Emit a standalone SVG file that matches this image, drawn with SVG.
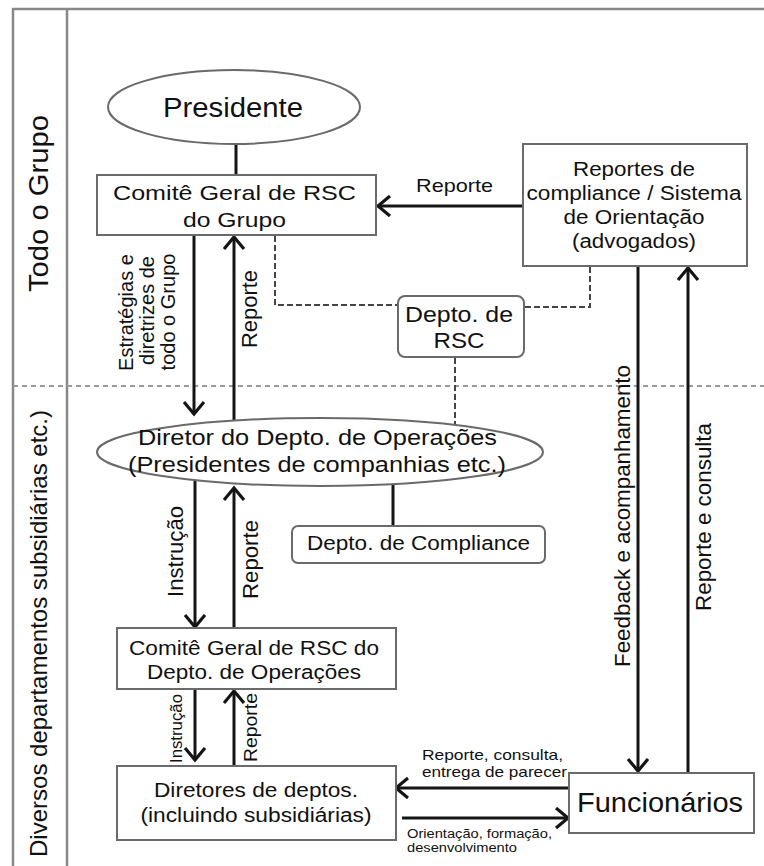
<svg xmlns="http://www.w3.org/2000/svg" width="764" height="866" viewBox="0 0 764 866">
<style>
text{font-family:"Liberation Sans",Arial,sans-serif;fill:#111;}
.c{text-anchor:middle;}
.box{fill:#fff;stroke:#6a6a6a;stroke-width:2;}
.ln{fill:none;stroke:#151515;stroke-width:3;}
.arr{fill:none;stroke:#151515;stroke-width:3;marker-end:url(#ah);}
.dash{fill:none;stroke:#444;stroke-width:2;stroke-dasharray:6,3;}
.frame{fill:none;stroke:#888;stroke-width:2.5;}
</style>
<defs>
<marker id="ah" markerUnits="userSpaceOnUse" markerWidth="18" markerHeight="26" refX="14" refY="11" orient="auto">
<path d="M2,1 L14,11 L2,21" fill="none" stroke="#151515" stroke-width="3.2"/>
</marker>
</defs>

<g id="frame">
<path class="frame" d="M13,866 V9 H764"/>
<line x1="67" y1="9" x2="67" y2="866" stroke="#888" stroke-width="2.5"/>
<line x1="13" y1="386" x2="764" y2="386" stroke="#9a9a9a" stroke-width="2" stroke-dasharray="5,4"/>
<text class="c" x="48" y="203.5" font-size="28" textLength="177" lengthAdjust="spacingAndGlyphs" transform="rotate(-90 48 203.5)">Todo o Grupo</text>
<text class="c" x="47" y="633.5" font-size="24" textLength="447" lengthAdjust="spacingAndGlyphs" transform="rotate(-90 47 633.5)">Diversos departamentos subsidiárias etc.)</text>
</g>

<g id="connectors">
<line class="ln" x1="236" y1="144" x2="236" y2="175"/>
<line class="arr" x1="523" y1="206" x2="378" y2="206"/>
<polyline class="dash" points="275,236 275,305 398,305"/>
<polyline class="dash" points="590,267 590,307 524,307"/>
<line class="dash" x1="455" y1="358" x2="455" y2="424"/>
<line class="arr" x1="194" y1="236" x2="194" y2="414"/>
<line class="arr" x1="234" y1="421" x2="234" y2="237"/>
<line class="ln" x1="393" y1="484" x2="393" y2="526"/>
<line class="arr" x1="195" y1="481" x2="195" y2="627"/>
<line class="arr" x1="234" y1="628" x2="234" y2="488"/>
<line class="arr" x1="195" y1="690" x2="195" y2="760"/>
<line class="arr" x1="234" y1="766" x2="234" y2="691"/>
<line class="arr" x1="569" y1="788" x2="396" y2="788"/>
<line class="arr" x1="402" y1="818" x2="568" y2="818"/>
<line class="arr" x1="638" y1="267" x2="638" y2="771"/>
<line class="arr" x1="688" y1="773" x2="688" y2="268"/>

<text x="416" y="192" font-size="19" textLength="77" lengthAdjust="spacingAndGlyphs">Reporte</text>
<g font-size="20">
<text class="c" x="133" y="312.5" transform="rotate(-90 133 312.5)">Estratégias e</text>
<text class="c" x="154" y="310.5" transform="rotate(-90 154 310.5)">diretrizes de</text>
<text class="c" x="175" y="312" transform="rotate(-90 175 312)">todo o Grupo</text>
</g>
<text class="c" x="257" y="309" font-size="22" textLength="78" lengthAdjust="spacingAndGlyphs" transform="rotate(-90 257 309)">Reporte</text>
<text class="c" x="183" y="551.5" font-size="22" textLength="91" lengthAdjust="spacingAndGlyphs" transform="rotate(-90 183 551.5)">Instrução</text>
<text class="c" x="258" y="559.5" font-size="22" textLength="79" lengthAdjust="spacingAndGlyphs" transform="rotate(-90 258 559.5)">Reporte</text>
<text class="c" x="182" y="728.5" font-size="17" textLength="69" lengthAdjust="spacingAndGlyphs" transform="rotate(-90 182 728.5)">Instrução</text>
<text class="c" x="257" y="727.5" font-size="19" textLength="69" lengthAdjust="spacingAndGlyphs" transform="rotate(-90 257 727.5)">Reporte</text>
<text class="c" x="630" y="516" font-size="22" textLength="302" lengthAdjust="spacingAndGlyphs" transform="rotate(-90 630 516)">Feedback e acompanhamento</text>
<text class="c" x="711" y="517" font-size="22" textLength="188" lengthAdjust="spacingAndGlyphs" transform="rotate(-90 711 517)">Reporte e consulta</text>
<text x="422" y="760" font-size="15" textLength="141" lengthAdjust="spacingAndGlyphs">Reporte, consulta,</text>
<text x="422" y="777" font-size="15" textLength="145" lengthAdjust="spacingAndGlyphs">entrega de parecer</text>
<text x="407" y="838" font-size="12" textLength="145" lengthAdjust="spacingAndGlyphs">Orientação, formação,</text>
<text x="407" y="852" font-size="12" textLength="110" lengthAdjust="spacingAndGlyphs">desenvolvimento</text>
</g>

<g id="presidente">
<ellipse class="box" cx="234" cy="107" rx="126" ry="37"/>
<text class="c" x="233" y="117" font-size="27" textLength="140" lengthAdjust="spacingAndGlyphs">Presidente</text>
</g>

<g id="comite-grupo">
<rect class="box" x="97" y="175" width="279" height="60"/>
<text class="c" x="234.5" y="200" font-size="21" textLength="243" lengthAdjust="spacingAndGlyphs">Comitê Geral de RSC</text>
<text class="c" x="234.5" y="227" font-size="21" textLength="103" lengthAdjust="spacingAndGlyphs">do Grupo</text>
</g>

<g id="reportes-compliance">
<rect class="box" x="523" y="144" width="224" height="122"/>
<text class="c" x="634" y="176" font-size="20" textLength="122" lengthAdjust="spacingAndGlyphs">Reportes de</text>
<text class="c" x="634" y="200" font-size="20" textLength="215" lengthAdjust="spacingAndGlyphs">compliance / Sistema</text>
<text class="c" x="634" y="224" font-size="20" textLength="141" lengthAdjust="spacingAndGlyphs">de Orientação</text>
<text class="c" x="634" y="248" font-size="20" textLength="124" lengthAdjust="spacingAndGlyphs">(advogados)</text>
</g>

<g id="depto-rsc">
<rect class="box" x="398" y="296" width="126" height="61" rx="7"/>
<text class="c" x="459" y="322" font-size="22" textLength="108" lengthAdjust="spacingAndGlyphs">Depto. de</text>
<text class="c" x="459" y="348" font-size="22" textLength="51" lengthAdjust="spacingAndGlyphs">RSC</text>
</g>

<g id="diretor-operacoes">
<ellipse class="box" cx="320" cy="452" rx="223" ry="34"/>
<text class="c" x="317.5" y="445" font-size="22" textLength="359" lengthAdjust="spacingAndGlyphs">Diretor do Depto. de Operações</text>
<text class="c" x="317" y="472" font-size="22" textLength="378" lengthAdjust="spacingAndGlyphs">(Presidentes de companhias etc.)</text>
</g>

<g id="depto-compliance">
<rect class="box" x="292" y="526" width="253" height="37" rx="6"/>
<text class="c" x="418.5" y="550" font-size="20" textLength="223" lengthAdjust="spacingAndGlyphs">Depto. de Compliance</text>
</g>

<g id="comite-operacoes">
<rect class="box" x="117" y="628" width="279" height="61"/>
<text class="c" x="254" y="655" font-size="20" textLength="250" lengthAdjust="spacingAndGlyphs">Comitê Geral de RSC do</text>
<text class="c" x="254" y="679" font-size="20" textLength="214" lengthAdjust="spacingAndGlyphs">Depto. de Operações</text>
</g>

<g id="diretores-deptos">
<rect class="box" x="117" y="766" width="279" height="74"/>
<text class="c" x="256" y="797" font-size="20" textLength="204" lengthAdjust="spacingAndGlyphs">Diretores de deptos.</text>
<text class="c" x="256" y="822" font-size="20" textLength="231" lengthAdjust="spacingAndGlyphs">(incluindo subsidiárias)</text>
</g>

<g id="funcionarios">
<rect class="box" x="569" y="773" width="185" height="60"/>
<text class="c" x="660" y="812" font-size="27" textLength="166" lengthAdjust="spacingAndGlyphs">Funcionários</text>
</g>
</svg>
